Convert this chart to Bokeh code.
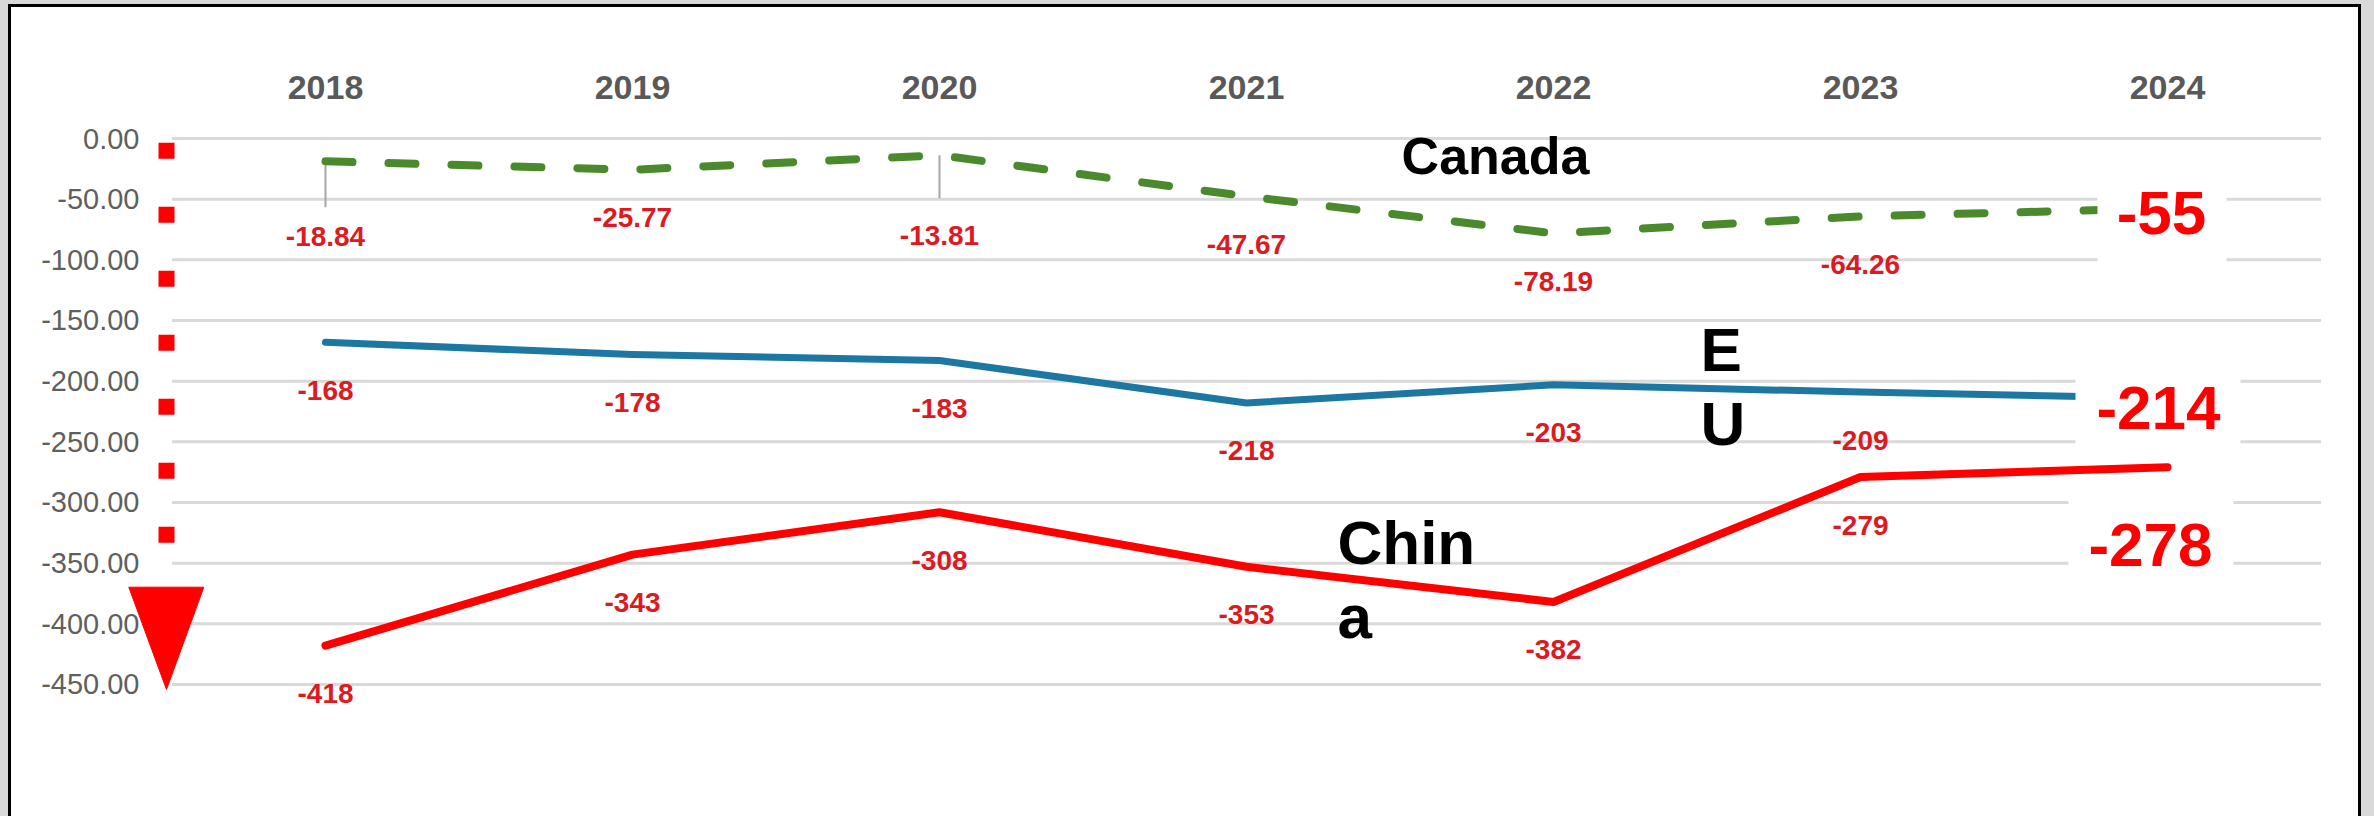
from bokeh.plotting import figure
from bokeh.models import FixedTicker, NumeralTickFormatter, Range1d, GlobalInlineStyleSheet
from bokeh.core.properties import value
from bokeh.embed import file_html
from bokeh.resources import INLINE

# ---------------- data ----------------
years = ["2018", "2019", "2020", "2021", "2022", "2023", "2024"]
canada = [-18.84, -25.77, -13.81, -47.67, -78.19, -64.26, -57.5]
eu = [-168, -178, -183, -218, -203, -209, -214]
china = [-418, -343, -308, -353, -382, -279, -271]
canada_labels = ["-18.84", "-25.77", "-13.81", "-47.67", "-78.19", "-64.26"]
eu_labels = ["-168", "-178", "-183", "-218", "-203", "-209"]
china_labels = ["-418", "-343", "-308", "-353", "-382", "-279"]
y_ticks = [0, -50, -100, -150, -200, -250, -300, -350, -400, -450]
callouts = ["-55", "-214", "-278"]
series_names = ["Canada", "E\nU", "Chin\na"]

# ---------------- layout helpers (reference pixel -> data) ----------------
X0_REF, XSTEP = 325.0, 307.0      # x of first category, px per category
Y0_REF, PXU = 138.0, 1.2133       # y of value 0, px per unit
CANVAS_TOP = 7                    # canvas top in page px
H = 812


def dx(px):
    return (px - X0_REF) / XSTEP


def dy(py):
    return -(py - Y0_REF) / PXU


xs = list(range(len(years)))
FONT = value("Liberation Sans")

p = figure(width=2353, height=H,
           x_range=Range1d(dx(125), dx(2345)), y_range=Range1d(dy(CANVAS_TOP + H), dy(110)),
           x_axis_location="above", output_backend="svg", toolbar_location=None,
           min_border_left=114, min_border_top=103, min_border_right=19, min_border_bottom=0,
           background_fill_color="white", border_fill_color="white", outline_line_color=None)

p.stylesheets = [GlobalInlineStyleSheet(
    css="html,body{background:#d9d9d9;overflow:hidden;} body{margin:4px 0 0 8px;padding:0;}")]
p.styles = {"border-top": "3px solid black", "border-left": "3px solid black",
            "border-right": "3px solid black", "background-color": "white"}

p.grid.visible = False

# x axis (years, above)
xa = p.xaxis[0]
xa.ticker = FixedTicker(ticks=xs)
xa.major_label_overrides = {i: y for i, y in enumerate(years)}
xa.axis_line_color = None
xa.major_tick_line_color = None
xa.minor_tick_line_color = None
xa.major_label_text_font = "Liberation Sans"
xa.major_label_text_font_style = "bold"
xa.major_label_text_font_size = "34px"
xa.major_label_text_color = "#595959"
xa.major_label_standoff = 6

# y axis
ya = p.yaxis[0]
ya.ticker = FixedTicker(ticks=y_ticks)
ya.formatter = NumeralTickFormatter(format="0.00")
ya.axis_line_color = None
ya.major_tick_line_color = None
ya.minor_tick_line_color = None
ya.major_tick_out = 0
ya.major_tick_in = 0
ya.major_label_standoff = -14
ya.major_label_text_font = "Liberation Sans"
ya.major_label_text_font_size = "29px"
ya.major_label_text_color = "#5f5f5f"

# gridlines
p.segment(x0=[-0.5] * len(y_ticks), x1=[len(years) - 0.5] * len(y_ticks),
          y0=y_ticks, y1=y_ticks, line_color="#d9d9d9", line_width=3)

# dashed arrow on the left
p.segment(x0=[dx(166)], y0=[dy(142.3)], x1=[dx(166)], y1=[dy(586.7)],
          line_color="#ff0000", line_width=16, line_dash="16 48", line_cap="butt")
p.patch([dx(128.3), dx(203.3), dx(166)], [dy(586.7), dy(586.7), dy(689)],
        fill_color="#ff0000", line_color="#ff0000", line_width=1)

# leader lines for moved Canada labels
leaders = {0: 46, 2: 43}
for i, L in leaders.items():
    p.segment(x0=[xs[i]], y0=[canada[i]], x1=[xs[i]], y1=[canada[i] - L / PXU],
              line_color="#a6a6a6", line_width=2)

# series lines
p.line(xs, canada, line_color="#4a8a2c", line_width=8, line_dash="27 36", line_cap="round")
p.line(xs, eu, line_color="#1c77a3", line_width=7, line_join="round", line_cap="round")
p.line(xs, china, line_color="#ff0000", line_width=8, line_join="round", line_cap="round")

# data labels
LABEL_DY = 48
label_kw = dict(text_font=FONT, text_font_style="bold", text_font_size="28px",
                text_color="#dc1a22", text_align="center", text_baseline="middle")
can_off = [LABEL_DY] * len(canada_labels)
can_off[0] = 75
can_off[2] = 80
p.text(x=xs[:len(canada_labels)], y=canada[:len(canada_labels)], text=canada_labels,
       y_offset=can_off, **label_kw)
p.text(x=xs[:len(eu_labels)], y=eu[:len(eu_labels)], text=eu_labels,
       y_offset=[LABEL_DY] * len(eu_labels), **label_kw)
p.text(x=xs[:len(china_labels)], y=china[:len(china_labels)], text=china_labels,
       y_offset=[LABEL_DY] * len(china_labels), **label_kw)

# white boxes behind the 2024 call-outs
boxes = [(2097, 2226, 178, 263), (2075, 2240, 376, 458), (2068, 2233, 495, 570)]
p.quad(left=[dx(b[0]) for b in boxes], right=[dx(b[1]) for b in boxes],
       top=[dy(b[2]) for b in boxes], bottom=[dy(b[3]) for b in boxes],
       fill_color="white", line_color=None)

# big call-out values
p.text(x=[dx(2161), dx(2158), dx(2150)], y=[dy(212), dy(407), dy(544)], text=callouts,
       text_font=FONT, text_font_style="bold", text_font_size="62px",
       text_color="#ff0000", text_align="center", text_baseline="middle")

# series name labels
p.text(x=[dx(1495)], y=[dy(155)], text=[series_names[0]], text_font=FONT,
       text_font_style="bold", text_font_size="52px", text_color="black",
       text_align="center", text_baseline="middle")
p.text(x=[dx(1700), dx(1337)], y=[dy(314), dy(507)], text=series_names[1:], text_font=FONT,
       text_font_style="bold", text_font_size="62px", text_color="black",
       text_align="left", text_baseline="top", text_line_height=1.08)

open("out.html", "w").write(file_html(p, INLINE))
